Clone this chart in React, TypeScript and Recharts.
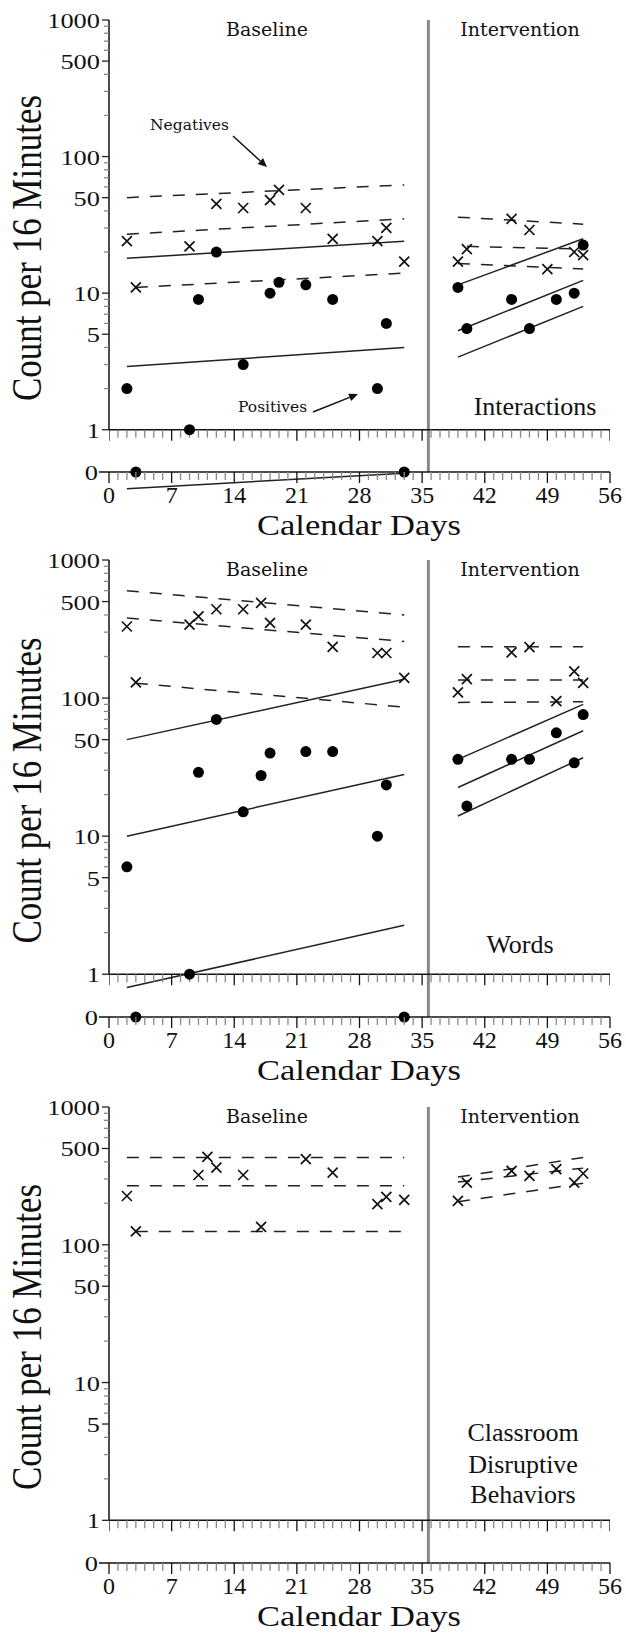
import { ComposedChart, Scatter, XAxis, YAxis, ReferenceLine } from "recharts"

const SERIF = "'Liberation Serif', 'Times New Roman', serif"
const SLAB = "'DejaVu Serif', serif"
const INK = "#111"

// axis ticks
const DAY_TICKS = Array.from({ length: 57 }, (_, i) => i)
const Y_LABELS = [1, 5, 10, 50, 100, 500, 1000]
const Y_MINOR = [2, 3, 4, 6, 7, 8, 9, 20, 30, 40, 60, 70, 80, 90, 200, 300, 400, 600, 700, 800, 900]
const ZERO_LEVEL = 0.49 // value at which the separate "0" row sits on the log scale
const PHASE_CHANGE = 35.7

// Interactions  [day, count]
const interNeg = [
  [2, 24], [3, 11], [9, 22], [12, 45], [15, 42], [18, 48], [19, 57], [22, 42], [25, 25], [30, 24], [31, 30], [33, 17],
  [39, 17], [40, 21], [45, 35], [47, 29], [49, 15], [52, 20], [53, 19],
]
const interPos = [
  [2, 2], [9, 1], [10, 9], [12, 20], [15, 3], [18, 10], [19, 12], [22, 11.5], [25, 9], [30, 2], [31, 6],
  [39, 11], [40, 5.5], [45, 9], [47, 5.5], [50, 9], [52, 10], [53, 22.5],
]
const interPosZero = [[3, 0], [33, 0]]
// celeration lines [day1, count1, day2, count2]
const interNegTrends = [
  [2, 50, 33, 62], [2, 27, 33, 35], [3, 11, 33, 14],
  [39, 36, 53, 32], [40, 22, 53, 21], [39, 16.5, 53, 15],
]
const interPosTrends = [
  [2, 18, 33, 24], [2, 2.9, 33, 4], [2, 0.37, 33, 0.48],
  [39, 11.5, 53, 25], [39, 5.3, 53, 12.4], [39, 3.4, 53, 8],
]

// Words
const wordsNeg = [
  [2, 330], [3, 130], [9, 340], [10, 390], [12, 440], [15, 440], [17, 490], [18, 350], [22, 340], [25, 235], [30, 212], [31, 212], [33, 140],
  [39, 110], [40, 137], [45, 214], [47, 234], [50, 95], [52, 156], [53, 129],
]
const wordsPos = [
  [2, 6], [9, 1], [10, 29], [12, 70], [15, 15], [17, 27.5], [18, 40], [22, 41], [25, 41], [30, 10], [31, 23.5],
  [39, 36], [40, 16.5], [45, 36], [47, 36], [50, 56], [52, 34], [53, 76],
]
const wordsPosZero = [[3, 0], [33, 0]]
const wordsNegTrends = [
  [2, 600, 33, 400], [2, 380, 33, 257], [3, 128, 33, 86],
  [39, 235, 53, 235], [39, 135, 53, 135], [39, 93, 53, 94],
]
const wordsPosTrends = [
  [2, 50, 33, 137], [2, 10, 33, 28], [2, 0.8, 33, 2.26],
  [39, 36, 53, 90], [39, 22.5, 53, 58], [39, 14, 53, 37],
]

// Classroom disruptive behaviors
const disruptNeg = [
  [2, 226], [3, 125], [10, 321], [11, 434], [12, 363], [15, 321], [17, 135], [22, 418], [25, 334], [30, 197], [31, 223], [33, 212],
  [39, 208], [40, 283], [45, 344], [47, 316], [50, 354], [52, 283], [53, 329],
]
const disruptNegTrends = [
  [2, 430, 33, 430], [2, 268, 33, 268], [3, 125, 33, 125],
  [39, 310, 53, 430], [39, 285, 53, 360], [39, 205, 53, 280],
]

const toPts = (rows: number[][]) => rows.map(([day, count]) => ({ day, count }))
const oneLineTicks = DAY_TICKS.map((day) => ({ day, count: 1 }))

function SText({ x, y, size, sx = 1, family = SERIF, anchor = "middle", children }: any) {
  return (
    <text transform={`translate(${x},${y}) scale(${sx},1)`} fontSize={size} fontFamily={family} textAnchor={anchor} fill={INK}>
      {children}
    </text>
  )
}

function YTick({ x, y, payload }: any) {
  const v = payload.value
  if (v === ZERO_LEVEL) {
    return (
      <g>
        <line x1={x - 10} x2={x} y1={y} y2={y} stroke={INK} strokeWidth={1.5} />
        <SText x={x - 11} y={y + 8} size={22} sx={1.2} anchor="end">0</SText>
      </g>
    )
  }
  const major = Y_LABELS.includes(v)
  return (
    <g>
      <line x1={x - (major ? 7 : 5)} x2={x} y1={y} y2={y} stroke={major ? "#222" : "#888"} strokeWidth={1.3} />
      {major && <SText x={x - 9} y={y + 8} size={22} sx={1.2} anchor="end">{v}</SText>}
    </g>
  )
}

function XTick({ x, y, payload }: any) {
  const d = payload.value
  const major = d % 7 === 0
  return (
    <g>
      <line x1={x} x2={x} y1={y} y2={y + (major ? 11 : 8)} stroke={major ? INK : "#888"} strokeWidth={1.3} />
      {major && <SText x={x} y={y + 31} size={24}>{d}</SText>}
    </g>
  )
}

const DaysTick = ({ cx, cy, payload }: any) => (
  <line x1={cx} x2={cx} y1={cy} y2={cy + (payload.day % 7 === 0 ? 11 : 8)} stroke={payload.day % 7 === 0 ? INK : "#888"} strokeWidth={1.3} />
)
const Cross = ({ cx, cy }: any) => (
  <path d={`M${cx - 5},${cy - 5}L${cx + 5},${cy + 5}M${cx - 5},${cy + 5}L${cx + 5},${cy - 5}`} stroke={INK} strokeWidth={1.7} />
)
const Dot = ({ cx, cy }: any) => <circle cx={cx} cy={cy} r={5.5} fill="#000" />

function Arrow({ x1, y1, x2, y2 }: any) {
  const a = Math.atan2(y2 - y1, x2 - x1)
  const l = 9, w = 4
  const bx = x2 - l * Math.cos(a), by = y2 - l * Math.sin(a)
  const p = `${x2},${y2} ${bx - w * Math.sin(a)},${by + w * Math.cos(a)} ${bx + w * Math.sin(a)},${by - w * Math.cos(a)}`
  return (
    <g>
      <line x1={x1} y1={y1} x2={bx} y2={by} stroke={INK} strokeWidth={1.5} />
      <polygon points={p} fill={INK} />
    </g>
  )
}

const PLOT_TOP = 20
const X_AXIS_H = 73

function Panel({ top, plotH, neg, pos, zero, negTrends, posTrends, children }: any) {
  const height = PLOT_TOP + plotH + X_AXIS_H
  const bottom = PLOT_TOP + plotH
  return (
    <div style={{ position: "absolute", left: 0, top, width: 626, height }}>
      <ComposedChart width={626} height={height} margin={{ top: PLOT_TOP, right: 16, bottom: 0, left: 0 }}>
        <XAxis
          dataKey="day"
          type="number"
          domain={[0, 56]}
          ticks={DAY_TICKS}
          interval={0}
          allowDataOverflow
          tick={<XTick />}
          tickLine={false}
          tickSize={0}
          tickMargin={0}
          axisLine={{ stroke: INK, strokeWidth: 1.5 }}
          height={X_AXIS_H}
        />
        <YAxis
          yAxisId="log"
          dataKey="count"
          type="number"
          scale="log"
          domain={[ZERO_LEVEL, 1000]}
          allowDataOverflow
          ticks={[ZERO_LEVEL, ...Y_MINOR, ...Y_LABELS]}
          interval={0}
          tick={<YTick />}
          tickLine={false}
          tickSize={0}
          tickMargin={0}
          axisLine={false}
          width={109}
        />
        <YAxis yAxisId="zero" dataKey="count" type="number" domain={[0, 1]} hide />

        <ReferenceLine yAxisId="log" x={PHASE_CHANGE} stroke="#888" strokeWidth={3} />
        <ReferenceLine yAxisId="log" segment={[{ x: 0, y: 1 }, { x: 0, y: 1000 }]} stroke={INK} strokeWidth={1.5} ifOverflow="visible" />
        <ReferenceLine yAxisId="log" y={1} stroke={INK} strokeWidth={1.5} />

        {negTrends.map(([x1, y1, x2, y2]: number[], i: number) => (
          <ReferenceLine
            key={"n" + i}
            yAxisId="log"
            segment={[{ x: x1, y: y1 }, { x: x2, y: y2 }]}
            stroke="#222"
            strokeWidth={1.5}
            strokeDasharray="12 11"
            ifOverflow="visible"
          />
        ))}
        {posTrends.map(([x1, y1, x2, y2]: number[], i: number) => (
          <ReferenceLine
            key={"p" + i}
            yAxisId="log"
            segment={[{ x: x1, y: y1 }, { x: x2, y: y2 }]}
            stroke="#222"
            strokeWidth={1.5}
            ifOverflow="visible"
          />
        ))}

        <Scatter yAxisId="log" data={oneLineTicks} shape={DaysTick} isAnimationActive={false} />
        <Scatter yAxisId="log" name="Negatives" data={toPts(neg)} shape={Cross} isAnimationActive={false} />
        {pos && <Scatter yAxisId="log" name="Positives" data={toPts(pos)} shape={Dot} isAnimationActive={false} />}
        {zero && <Scatter yAxisId="zero" name="Positives (0)" data={toPts(zero)} shape={Dot} isAnimationActive={false} />}
      </ComposedChart>
      <svg width={626} height={height} style={{ position: "absolute", left: 0, top: 0, pointerEvents: "none" }}>
        <text
          transform={`translate(41,${PLOT_TOP + plotH / 2 + 2}) rotate(-90) scale(1,1.2)`}
          fontSize={35}
          fontFamily={SERIF}
          textAnchor="middle"
          fill={INK}
        >
          Count per 16 Minutes
        </text>
        <SText x={267} y={PLOT_TOP + 16} size={19} family={SLAB}>Baseline</SText>
        <SText x={520} y={PLOT_TOP + 16} size={19} family={SLAB}>Intervention</SText>
        <SText x={359} y={bottom + 63} size={29} sx={1.19}>Calendar Days</SText>
        {children}
      </svg>
    </div>
  )
}

export default function App() {
  return (
    <div style={{ position: "relative", width: 626, height: 1634, background: "#fff" }}>
      <style>{`body{margin:0}`}</style>
      <Panel top={0} plotH={452} neg={interNeg} pos={interPos} zero={interPosZero} negTrends={interNegTrends} posTrends={interPosTrends}>
        <SText x={150} y={130} size={15.5} family={SLAB} anchor="start">Negatives</SText>
        <Arrow x1={233} y1={136} x2={267} y2={167} />
        <SText x={238} y={412} size={15.5} family={SLAB} anchor="start">Positives</SText>
        <Arrow x1={313} y1={412} x2={358} y2={394} />
        <SText x={535} y={415} size={26}>Interactions</SText>
      </Panel>
      <Panel top={540} plotH={457} neg={wordsNeg} pos={wordsPos} zero={wordsPosZero} negTrends={wordsNegTrends} posTrends={wordsPosTrends}>
        <SText x={520} y={413} size={26}>Words</SText>
      </Panel>
      <Panel top={1087} plotH={456} neg={disruptNeg} negTrends={disruptNegTrends} posTrends={[]}>
        <SText x={523} y={354} size={26}>Classroom</SText>
        <SText x={523} y={386} size={26}>Disruptive</SText>
        <SText x={523} y={416} size={26}>Behaviors</SText>
      </Panel>
    </div>
  )
}
